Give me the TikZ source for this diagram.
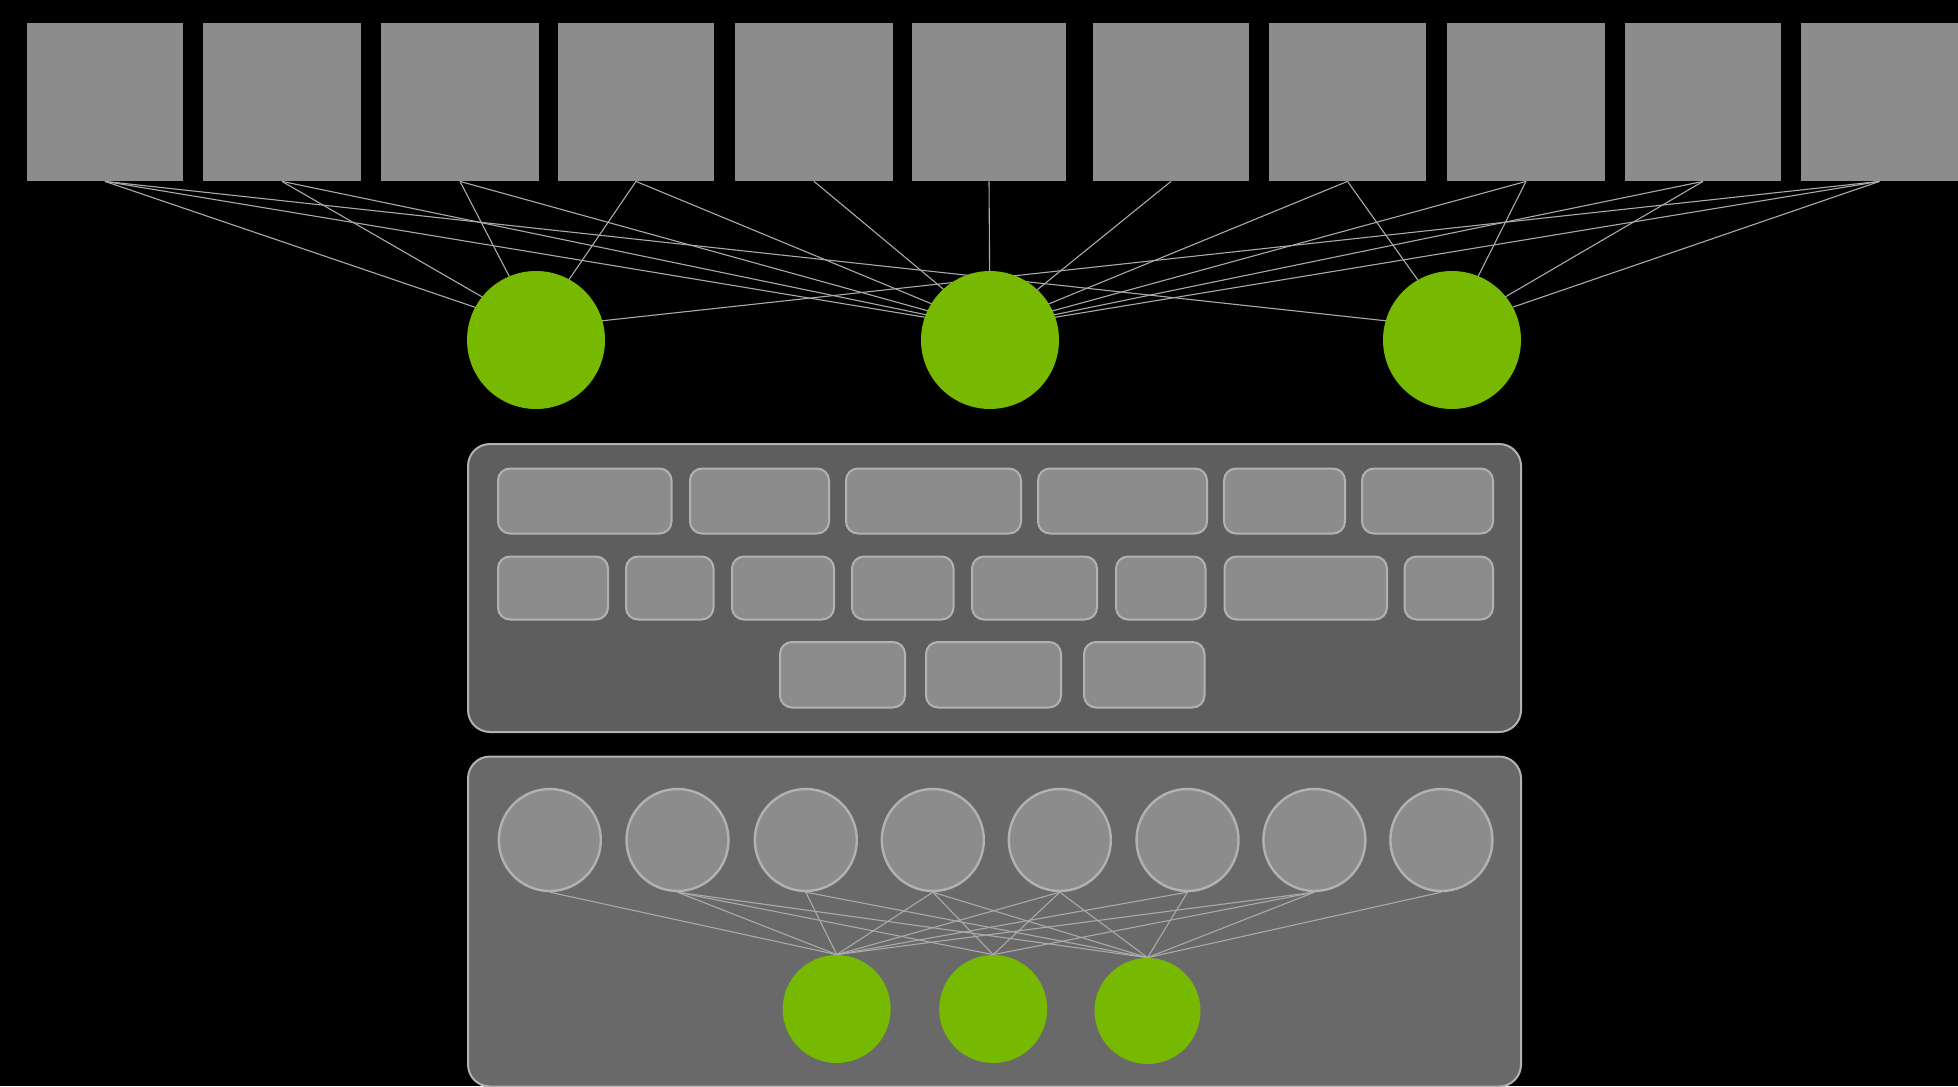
\documentclass[tikz,border=0pt]{standalone}
\pgfdeclarelayer{back}
\pgfdeclarelayer{edges}
\pgfsetlayers{back,edges,main}

\definecolor{boxgray}{RGB}{140,140,140}
\definecolor{rimgray}{RGB}{178,178,178}
\definecolor{wiregray}{RGB}{170,170,170}
\definecolor{panelA}{RGB}{94,94,94}
\definecolor{panelB}{RGB}{105,105,105}
\definecolor{nvgreen}{RGB}{118,185,0}

% one drawing unit = one pixel = 0.5pt
\newcommand\pxl[1]{#1*0.5pt}

\begin{document}
\begin{tikzpicture}[x=0.5pt,y=-0.5pt,
  topsq/.style={rectangle, fill=boxgray, inner sep=0pt, minimum height=\pxl{158}},
  hub/.style={circle, fill=nvgreen, inner sep=0pt, minimum size=\pxl{138}},
  smallhub/.style={circle, fill=nvgreen, inner sep=0pt, minimum size=\pxl{108}},
  unit/.style={circle, fill=boxgray, draw=rimgray, line width=1.2pt, inner sep=0pt, minimum size=\pxl{102}},
  panel/.style={rectangle, draw=rimgray, line width=1pt, rounded corners=11pt, inner sep=0pt},
  keycap/.style={rectangle, fill=boxgray, draw=rimgray, line width=1pt, rounded corners=6pt, inner sep=0pt},
  wire/.style={draw=wiregray, line width=0.55pt},
]

% canvas
\useasboundingbox (0,0) rectangle (1958,1086);
\begin{pgfonlayer}{back}
  \fill[black] (0,0) rectangle (1958,1086);
\end{pgfonlayer}

% top row of blocks
\foreach \n/\cx/\w in {1/105/156, 2/282/158, 3/460/158, 4/636/156, 5/814/158,
                       6/989/154, 7/1171/156, 8/1347.5/157, 9/1526/158,
                       10/1703/156, 11/1879.5/157}
  \node[topsq, minimum width=\pxl{\w}] (s\n) at (\cx,102) {};

% three green hubs
\node[hub] (c1) at (536,340) {};
\node[hub] (c2) at (990,340) {};
\node[hub] (c3) at (1452,340) {};
\foreach \j in {1,2,3}
  \coordinate (t\j) at ([yshift=6pt]c\j.center);

% wiring from blocks to hubs
\begin{pgfonlayer}{edges}
  \foreach \a/\b in {s1/t1, s1/t2, s1/t3, s2/t1, s2/t2, s3/t1, s3/t2,
                     s4/t1, s4/t2, s5/t2, s6/t2, s7/t2, s8/t2, s8/t3,
                     s9/t2, s9/t3, s10/t2, s10/t3, s11/t1, s11/t2, s11/t3}
    \draw[wire] (\a.south) -- (\b);
\end{pgfonlayer}

% upper panel with keys
\node[panel, fill=panelA, minimum width=\pxl{1053}, minimum height=\pxl{288}] (pa) at (994.5,588) {};

\foreach \n/\cx/\w in {1/584.75/173.5, 2/759.5/139, 3/933.5/175, 4/1122.5/169,
                       5/1284.5/121, 6/1427.5/131}
  \node[keycap, minimum width=\pxl{\w}, minimum height=\pxl{65}] (ka\n) at (\cx,501) {};

\foreach \n/\cx/\w in {1/553/110, 2/669.75/87.5, 3/783/102, 4/902.75/101.5,
                       5/1034.5/125, 6/1160.75/89.5, 7/1305.75/162.5, 8/1448.75/88.5}
  \node[keycap, minimum width=\pxl{\w}, minimum height=\pxl{63}] (kb\n) at (\cx,588) {};

\foreach \n/\cx/\w in {1/842.5/125, 2/993.5/135, 3/1144.25/120.5}
  \node[keycap, minimum width=\pxl{\w}, minimum height=\pxl{65.5}] (kc\n) at (\cx,674.75) {};

% lower panel
\node[panel, fill=panelB, minimum width=\pxl{1053}, minimum height=\pxl{330}] (pb) at (994.5,921.5) {};

\foreach \n/\cx in {1/549.8, 2/677.5, 3/805.8, 4/932.8, 5/1059.8, 6/1187.5, 7/1314.4, 8/1441.4}
  \node[unit] (u\n) at (\cx,840) {};

\node[smallhub] (g1) at (836.7,1009) {};
\node[smallhub] (g2) at (993.2,1009) {};
\node[smallhub, minimum size=\pxl{106}] (g3) at (1147.5,1011) {};

\foreach \a/\b in {u1/g1, u2/g1, u2/g2, u2/g3, u3/g1, u3/g3,
                   u4/g1, u4/g2, u4/g3, u5/g1, u5/g2, u5/g3,
                   u6/g1, u6/g3, u7/g1, u7/g2, u7/g3, u8/g3}
  \draw[wire] (\a.south) -- (\b.north);

\end{tikzpicture}
\end{document}
